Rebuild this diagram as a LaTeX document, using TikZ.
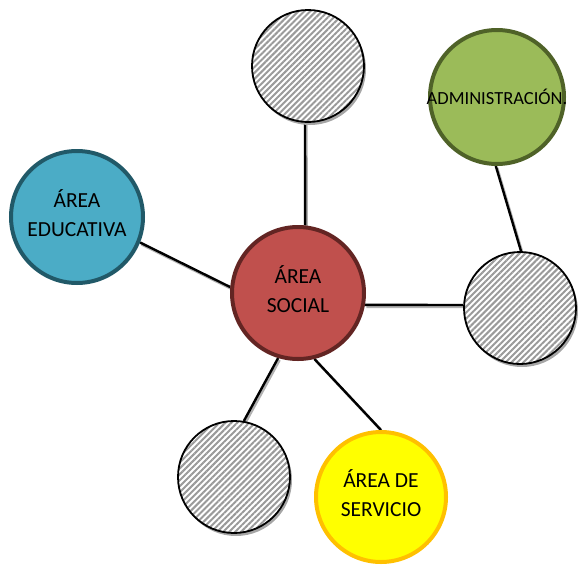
\documentclass[tikz,border=0pt]{standalone}
\usepackage{fontspec}
\setmainfont{Carlito}
\usetikzlibrary{patterns.meta,shadows,backgrounds}
\definecolor{socfill}{HTML}{C0504D}
\definecolor{socdraw}{HTML}{632523}
\definecolor{edufill}{HTML}{4BACC6}
\definecolor{edudraw}{HTML}{215968}
\definecolor{admfill}{HTML}{9BBB59}
\definecolor{admdraw}{HTML}{4F6228}
\definecolor{serfill}{HTML}{FFFF00}
\definecolor{serdraw}{HTML}{FFC000}
\definecolor{hatch}{HTML}{9A9A9A}
\begin{document}
\begin{tikzpicture}[x=1pt,y=-1pt,
 bubble/.style={circle, line width=4pt, inner sep=0pt},
 txt/.style={align=center, yshift=4pt, font=\fontsize{21.5}{29.5}\selectfont},
 hatched/.style={circle, draw=black, line width=1.8pt, minimum size=112pt, inner sep=0pt,
   drop shadow={shadow xshift=2pt, shadow yshift=-3pt, fill=gray!70, opacity=1},
   preaction={fill=white},
   pattern={Lines[angle=45,distance=4.2pt,line width=2pt]}, pattern color=hatch},
 link/.style={line width=2.4pt, black},
 linkshadow/.style={line width=2.4pt, gray!60, transform canvas={shift={(1.5pt,-2pt)}}}
]
\useasboundingbox (0,0) rectangle (578,565);
\node[hatched] (top) at (308,66) {};
\node[hatched] (right) at (520,308) {};
\node[hatched] (bl) at (234,477) {};
\node[bubble, fill=socfill, draw=socdraw, minimum size=132pt,
  label={[txt]center:ÁREA\\SOCIAL}] (soc) at (298,293) {};
\node[bubble, fill=edufill, draw=edudraw, minimum size=132pt,
  label={[txt]center:ÁREA\\EDUCATIVA}] (edu) at (77,217) {};
\node[bubble, fill=admfill, draw=admdraw, minimum size=134pt,
  label={[font=\fontsize{18.5}{22}\selectfont]center:ADMINISTRACIÓN.}] (adm) at (497,97) {};
\node[bubble, fill=serfill, draw=serdraw, minimum size=130pt,
  label={[txt]center:ÁREA DE\\SERVICIO}] (ser) at (381,497) {};
\begin{scope}[on background layer]
 \foreach \a/\b in {top.-93/soc.84, edu.-22/soc.175, soc.-10/right.177, adm.-91/right.89, soc.-107/bl.80, soc.-76/ser.90}{
   \draw[linkshadow] (\a) -- (\b);
   \draw[link] (\a) -- (\b);
 }
\end{scope}
\end{tikzpicture}
\end{document}
